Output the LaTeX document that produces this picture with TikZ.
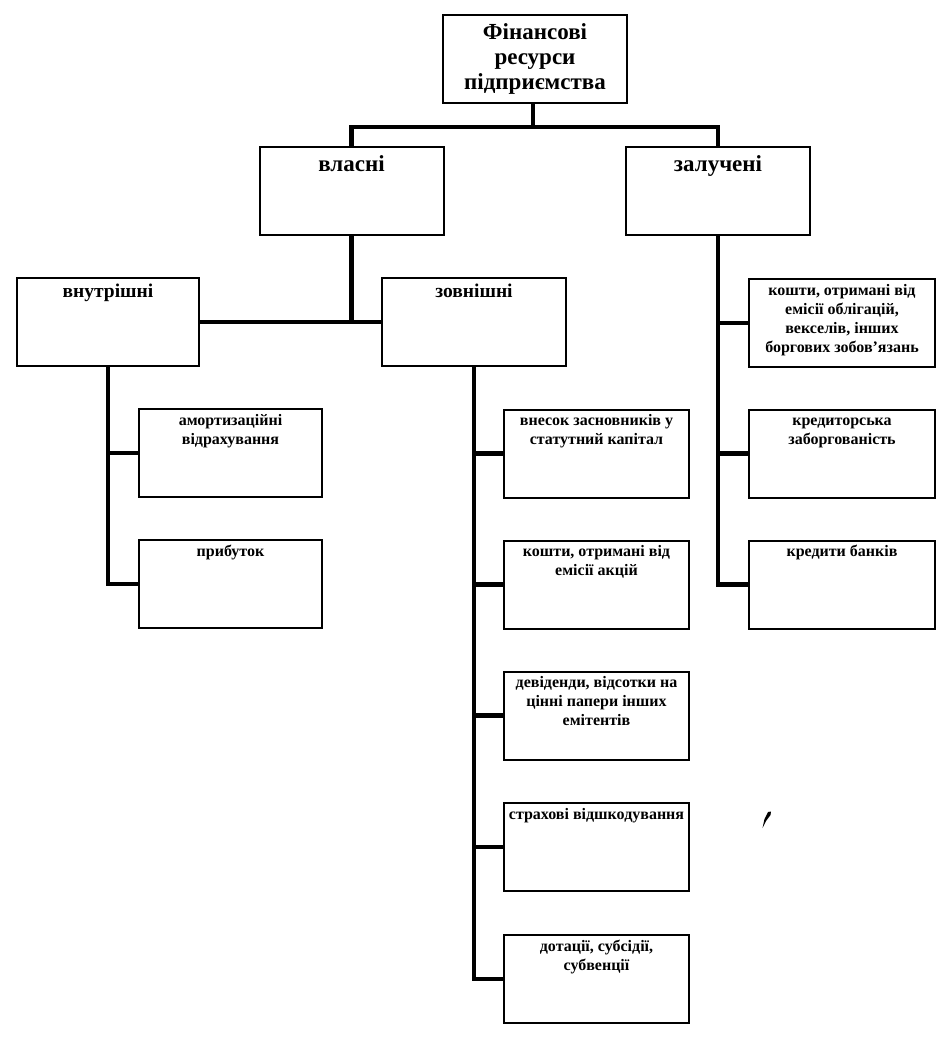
\documentclass[tikz,border=0pt]{standalone}
\usepackage{fontspec}
\setmainfont{Liberation Serif}
\begin{document}
\begin{tikzpicture}[x=1pt,y=-1pt,
  bx/.style={draw, line width=2pt, minimum width=184pt, minimum height=88pt, inner sep=0pt},
  conn/.style={line width=4.6pt},
  big/.style={anchor=north, align=center, inner sep=0pt, font=\bfseries\fontsize{23}{25}\selectfont},
  mid/.style={anchor=north, align=center, inner sep=0pt, font=\bfseries\fontsize{19.5}{22}\selectfont},
  sm/.style={anchor=north, align=center, inner sep=0pt, font=\bfseries\fontsize{16}{19}\selectfont}]
\useasboundingbox (0,0) rectangle (952,1041);
\fill[white] (0,0) rectangle (952,1041);

% boxes
\node[bx] (top) at (535,59) {};
\node[bx] (vlasni) at (351.5,191) {};
\node[bx] (zaluch) at (718,191) {};
\node[bx, minimum width=182pt] (vnutr) at (108,322) {};
\node[bx] (zovn) at (474,322) {};
\node[bx, minimum width=183pt] (amort) at (230.5,453) {};
\node[bx, minimum width=183pt] (prybut) at (230.5,584) {};
\node[bx, minimum width=185pt] (vnesok) at (596.5,453.5) {};
\node[bx, minimum width=185pt] (akcii) at (596.5,584.5) {};
\node[bx, minimum width=185pt] (divid) at (596.5,715.5) {};
\node[bx, minimum width=185pt] (strakh) at (596.5,847) {};
\node[bx, minimum width=185pt] (dotac) at (596.5,979) {};
\node[bx, minimum width=186pt] (oblig) at (842,323) {};
\node[bx, minimum width=186pt] (kredytor) at (842,453.5) {};
\node[bx, minimum width=186pt] (kredyty) at (842,584.5) {};

% texts
\node[big] (t-top) at ([yshift=-7.5pt]top.north) {\strut Фінансові\\ресурси\\підприємства};
\node[big] (t-vlasni) at ([yshift=-7.5pt]vlasni.north) {\strut власні};
\node[big] (t-zaluch) at ([yshift=-7.5pt]zaluch.north) {\strut залучені};
\node[mid] (t-vnutr) at ([yshift=-4.6pt]vnutr.north) {\strut внутрішні};
\node[mid] (t-zovn) at ([yshift=-4.6pt]zovn.north) {\strut зовнішні};
\node[sm] (t-amort) at ([yshift=-3.5pt]amort.north) {\strut амортизаційні\\відрахування};
\node[sm] (t-prybut) at ([yshift=-3.5pt]prybut.north) {\strut прибуток};
\node[sm] (t-vnesok) at ([yshift=-3.5pt]vnesok.north) {\strut внесок засновників у\\статутний капітал};
\node[sm] (t-akcii) at ([yshift=-3.5pt]akcii.north) {\strut кошти, отримані від\\емісії акцій};
\node[sm] (t-divid) at ([yshift=-3.5pt]divid.north) {\strut девіденди, відсотки на\\цінні папери інших\\емітентів};
\node[sm] (t-strakh) at ([yshift=-3.5pt]strakh.north) {\strut страхові відшкодування};
\node[sm] (t-dotac) at ([yshift=-3.5pt]dotac.north) {\strut дотації, субсідії,\\субвенції};
\node[sm] (t-oblig) at ([yshift=-3.5pt]oblig.north) {\strut кошти, отримані від\\емісії облігацій,\\векселів, інших\\боргових зобов’язань};
\node[sm] (t-kredytor) at ([yshift=-3.5pt]kredytor.north) {\strut кредиторська\\заборгованість};
\node[sm] (t-kredyty) at ([yshift=-3.5pt]kredyty.north) {\strut кредити банків};

% connectors
\coordinate (bar) at (533,127);
\draw[conn] (top.south -| bar) -- (bar);
\draw[conn] (vlasni.north) |- (bar) -| (zaluch.north);
\draw[conn] (vlasni.south) -- (vlasni.south |- vnutr.east);
\draw[conn] (vnutr.east) -- (zovn.west);
\draw[conn] (vnutr.south) |- (prybut.west);
\draw[conn] (vnutr.south |- amort.west) -- (amort.west);
\draw[conn] (zovn.south) |- (dotac.west);
\foreach \n in {vnesok,akcii,divid,strakh}
  \draw[conn] (zovn.south |- \n.west) -- (\n.west);
\draw[conn] (zaluch.south) |- (kredyty.west);
\foreach \n in {oblig,kredytor}
  \draw[conn] (zaluch.south |- \n.west) -- (\n.west);

% stray mark of the scan
\fill (762.5,828) -- (764.5,819) -- (768,812) -- (771,811.5) -- (770.5,815) -- (766,821) -- cycle;
\end{tikzpicture}
\end{document}
